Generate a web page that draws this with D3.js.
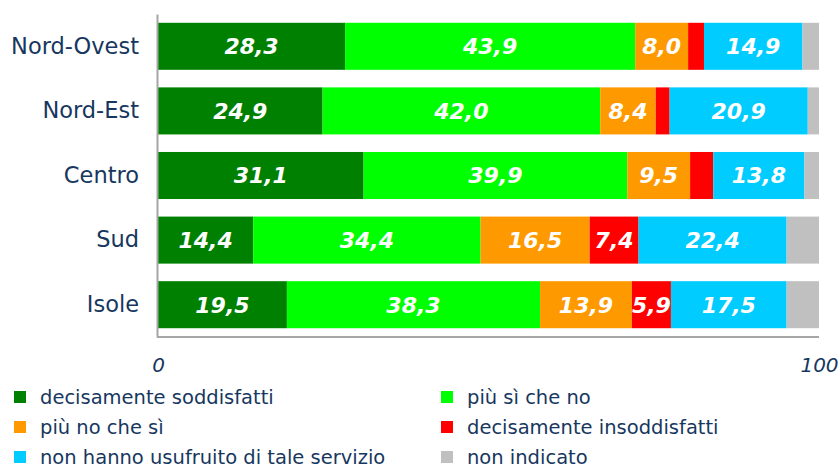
<!DOCTYPE html>
<html>
<head>
<meta charset="utf-8">
<script src="https://cdn.jsdelivr.net/npm/d3@7"></script>
<style>
  body { margin: 0; background: #fff; }
  svg { display: block; }
</style>
</head>
<body>
<svg width="839" height="468"></svg>
<script>
// categories and series
var regions = ["Nord-Ovest", "Nord-Est", "Centro", "Sud", "Isole"];
var seriesNames = ["decisamente soddisfatti", "più sì che no", "più no che sì",
    "decisamente insoddisfatti", "non hanno usufruito di tale servizio", "non indicato"];
var seriesColors = ["#008000", "#00ff00", "#ff9900", "#ff0000", "#00ccff", "#c0c0c0"];

var decisamenteSodd = [28.3, 24.9, 31.1, 14.4, 19.5];
var piuSiCheNo      = [43.9, 42.0, 39.9, 34.4, 38.3];
var piuNoCheSi      = [8.0, 8.4, 9.5, 16.5, 13.9];
var decisamenteInsodd = [2.4, 2.1, 3.5, 7.4, 5.9];
var nonUsufruito    = [14.9, 20.9, 13.8, 22.4, 17.5];
var nonIndicato     = [2.5, 1.7, 2.2, 4.9, 4.9];

var xTicks = [0, 100];

var seriesValues = [decisamenteSodd, piuSiCheNo, piuNoCheSi, decisamenteInsodd, nonUsufruito, nonIndicato];

// table for d3.stack
var keys = seriesNames;
var table = regions.map(function(r, i) {
    var row = {region: r};
    keys.forEach(function(k, j) { row[k] = seriesValues[j][i]; });
    return row;
});

var svg = d3.select("svg");
var textColor = "#17375e";

var x = d3.scaleLinear().domain([0, 100]).range([158, 819]);
var y = d3.scaleBand().domain(regions).range([14, 337])
    .paddingInner(0.272).paddingOuter(0.136);

var stacked = d3.stack().keys(keys)(table);
var fmt = function(v) { return d3.format(".1f")(v).replace(".", ","); };

var layers = svg.append("g")
    .selectAll("g")
    .data(stacked)
    .enter()
    .append("g")
    .attr("fill", function(d, i) { return seriesColors[i]; });

layers.selectAll("rect")
    .data(function(d) { return d; })
    .enter()
    .append("rect")
    .attr("x", function(d) { return x(d[0]); })
    .attr("y", function(d) { return y(d.data.region); })
    .attr("width", function(d) { return x(d[1]) - x(d[0]); })
    .attr("height", y.bandwidth());

// labels only on the wider segments
layers.selectAll("text")
    .data(function(d) { return d.filter(function(s) { return s[1] - s[0] >= 5; }); })
    .enter()
    .append("text")
    .attr("x", function(d) { return (x(d[0]) + x(d[1])) / 2; })
    .attr("y", function(d) { return y(d.data.region) + y.bandwidth() / 2; })
    .attr("dy", "0.36em")
    .attr("text-anchor", "middle")
    .attr("fill", "#fff")
    .style("font-family", "'DejaVu Sans', Verdana, sans-serif")
    .style("font-size", "22px")
    .style("font-weight", "bold")
    .style("font-style", "italic")
    .text(function(d) { return fmt(d[1] - d[0]); });

// axes
var yAxis = svg.append("g")
    .attr("transform", "translate(157,0)")
    .call(d3.axisLeft(y).tickSize(0).tickPadding(18));
yAxis.selectAll("text")
    .attr("fill", textColor)
    .style("font-family", "'DejaVu Sans', Verdana, sans-serif")
    .style("font-size", "22.5px");

var xAxis = svg.append("g")
    .attr("transform", "translate(0,337)")
    .call(d3.axisBottom(x).tickValues(xTicks).tickSize(0).tickPadding(21));
xAxis.selectAll("text")
    .attr("fill", textColor)
    .style("font-family", "'DejaVu Sans', Verdana, sans-serif")
    .style("font-size", "20px")
    .style("font-style", "italic");
xAxis.select(".domain").attr("d", "M157,0H819");

svg.selectAll(".domain")
    .attr("stroke", "#a6a6a6")
    .attr("stroke-width", 2);

// legend
var legend = svg.append("g")
    .selectAll("g")
    .data(seriesNames)
    .enter()
    .append("g")
    .attr("transform", function(d, i) {
        return "translate(" + (i % 2 === 0 ? 14 : 441) + "," + (397 + Math.floor(i / 2) * 30) + ")";
    });

legend.append("rect")
    .attr("x", 0)
    .attr("y", -6)
    .attr("width", 12)
    .attr("height", 12)
    .attr("fill", function(d, i) { return seriesColors[i]; });

legend.append("text")
    .attr("x", 26)
    .attr("dy", "0.36em")
    .attr("fill", textColor)
    .style("font-family", "'DejaVu Sans', Verdana, sans-serif")
    .style("font-size", "19.5px")
    .text(function(d) { return d; });
</script>
</body>
</html>
